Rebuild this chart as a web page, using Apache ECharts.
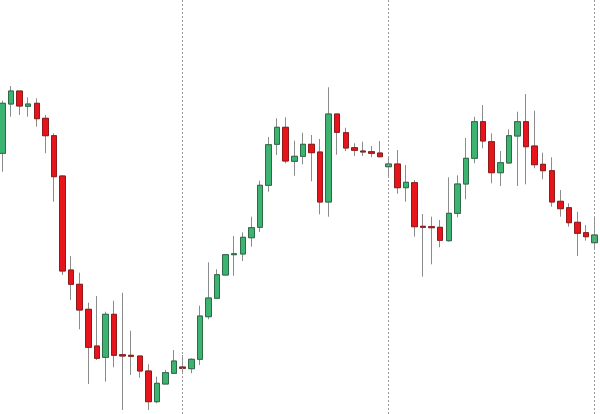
<!DOCTYPE html>
<html>
<head>
<meta charset="utf-8">
<script src="https://cdn.jsdelivr.net/npm/echarts@6/dist/echarts.min.js"></script>
<style>
html,body{margin:0;padding:0;background:#fff;}
#c{width:600px;height:414px;}
</style>
</head>
<body>
<div id="c"></div>
<script>
// Candle values (price units)
var opens  = [260.7,310,323,307.7,310.7,295.7,278.3,238,144,129.7,104.7,68,56.7,99.7,59.3,58.7,58,43,12.3,30,40.7,47,45.3,54.7,97.3,115.7,139,159.3,160,176.3,186.7,228.7,269.7,286.7,252.7,257.7,269.7,262,212,300,281.3,266.3,263,262.3,261,247.3,250,226.3,231.3,187.7,187.3,186.7,173.3,200.7,230,255.7,292.3,272.3,241.3,251,278,292.3,268,249.7,243.3,212.7,206.3,191.7,181.3,171.3];
var closes = [310.7,323,308,310,295.3,278.3,237.3,143,129.7,104,66.7,55.7,99.7,58.7,58,57.7,43,12.3,30.7,41.3,53,45.7,54.7,98,116,139.3,159.3,160.3,176.7,186.3,228.7,269.3,286.7,253,257.7,269.7,261.3,212,300,281.7,266,263.7,262,260.7,257.3,250,226.3,231.7,187.3,186.7,186.3,173.7,200.7,230,255.7,292.3,273,241.3,251.3,278.3,292.3,267.3,249.3,243.3,212,205.3,191.3,180.7,177.3,179];
var lows   = [242.3,297.3,299,297.3,287.3,260.7,212.3,139,114,84.7,30,54,32.3,46.7,4,39,36.3,4,10.7,30,40,40.7,40.7,49,94.7,115.7,139,138.3,153,167.3,182,222.3,259,250.7,238.3,249.7,232.7,199.7,197.3,259.3,263,258,258,256.7,256.7,237.3,220.3,212.3,177.3,137.3,149.7,166.7,172.3,196.7,214.7,250.7,265.7,230.7,228,251,228,229.7,245.7,234.7,207.3,197.3,187.3,158,173.3,164];
var highs  = [313.3,328,323,316.7,315.7,299,280.7,239,158,141.3,111.3,118,102.3,113.3,121.3,83.3,58,49.7,37.3,44,64,59,55.7,108.3,151.7,144.7,159.3,178,181.7,197.3,233.3,277,295.7,296.7,273.3,281.3,279,275,326.7,300,286.3,270.7,272.3,268,273,258,264,249,234,200,197.3,194,236.7,238.7,276,297.3,309,280.7,263,284.7,302.3,320,303.3,261.3,256.7,224,210.7,202.3,189,197.3];
var separatorIdx = [21, 45, 69];

var cats = opens.map(function(_, i){ return String(i); });
var full = opens.map(function(o, i){ return [o, closes[i], lows[i], highs[i]]; });
var bodies = opens.map(function(o, i){ return [o, closes[i], Math.min(o, closes[i]), Math.max(o, closes[i])]; });

var chart = echarts.init(document.getElementById('c'), null, {renderer:'canvas'});
chart.setOption({
  animation: false,
  backgroundColor: '#ffffff',
  grid: {left: 2.45, right: 5.3, top: 0, bottom: 0},
  xAxis: {type: 'category', data: cats, boundaryGap: false, show: false},
  yAxis: {type: 'value', min: 0, max: 414, show: false, splitLine: {show: false}},
  series: [
    {
      type: 'candlestick',
      data: full,
      barWidth: 6,
      itemStyle: {
        color: 'rgba(0,0,0,0)', color0: 'rgba(0,0,0,0)',
        borderColor: '#8c8c8c', borderColor0: '#8c8c8c', borderWidth: 1
      },
      markLine: {
        silent: true,
        symbol: ['none','none'],
        label: {show: false},
        lineStyle: {type: [2,2], color: '#9a9a9a', width: 1},
        data: separatorIdx.map(function(i){ return {xAxis: i}; })
      },
      z: 1
    },
    {
      type: 'candlestick',
      data: bodies,
      barWidth: 6,
      itemStyle: {
        color: '#3cb371', color0: '#e8141b',
        borderColor: '#2f6b47', borderColor0: '#8e1a1a', borderWidth: 1
      },
      z: 2
    }
  ]
});
</script>
</body>
</html>
